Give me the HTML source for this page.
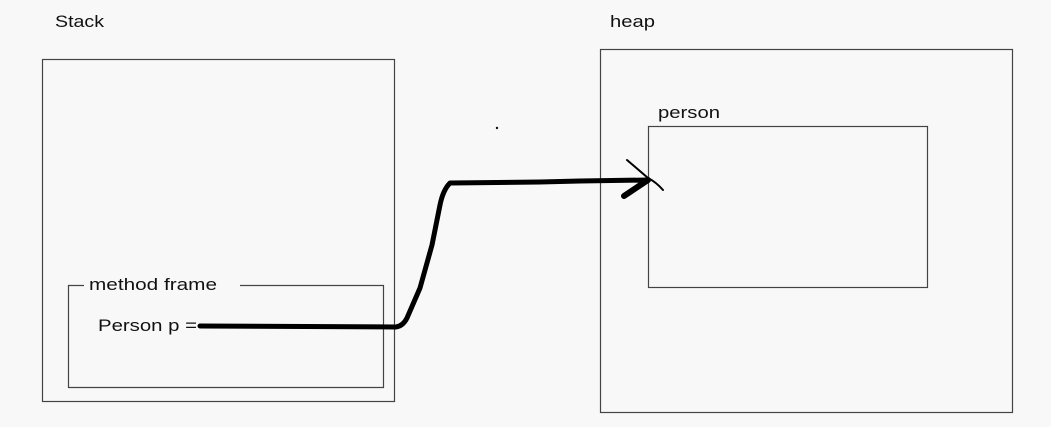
<!DOCTYPE html>
<html><head><meta charset="utf-8"><style>
body{margin:0;background:#f8f8f8;}
svg{display:block}
text{font-family:"Liberation Sans",sans-serif;font-size:17px;fill:#111}
</style></head><body>
<svg width="1051" height="427">
<rect width="1051" height="427" fill="#f8f8f8"/>
<text x="55" y="27" textLength="49" lengthAdjust="spacingAndGlyphs">Stack</text>
<rect x="42.5" y="59.5" width="352" height="342" fill="none" stroke="#444" stroke-width="1.2"/>
<path d="M84 285.5 H68.5 V387.5 H383.5 V285.5 H240" fill="none" stroke="#444" stroke-width="1.2"/>
<text x="89" y="290" textLength="128" lengthAdjust="spacingAndGlyphs">method frame</text>
<text x="98" y="331" textLength="99" lengthAdjust="spacingAndGlyphs">Person p =</text>
<text x="610" y="27" textLength="45" lengthAdjust="spacingAndGlyphs">heap</text>
<rect x="600.5" y="49.5" width="412" height="363" fill="none" stroke="#444" stroke-width="1.2"/>
<text x="658" y="118" textLength="62" lengthAdjust="spacingAndGlyphs">person</text>
<rect x="648.5" y="126.5" width="279" height="161" fill="none" stroke="#444" stroke-width="1.2"/>
<circle cx="497" cy="128" r="1.2" fill="#111"/>
<path d="M200 326 L396 327 Q403 326 407 318 L420 288 L432 245 L440 205 Q443 190 450 183 L540 182 L580 181 L648 180" fill="none" stroke="#000" stroke-width="5" stroke-linecap="round" stroke-linejoin="round"/>
<path d="M624 196 L648 180" stroke="#000" stroke-width="6" stroke-linecap="round"/>
<path d="M627 160 L648 178 Q656 182 663 190" fill="none" stroke="#000" stroke-width="2" stroke-linecap="round"/>
</svg>
</body></html>
